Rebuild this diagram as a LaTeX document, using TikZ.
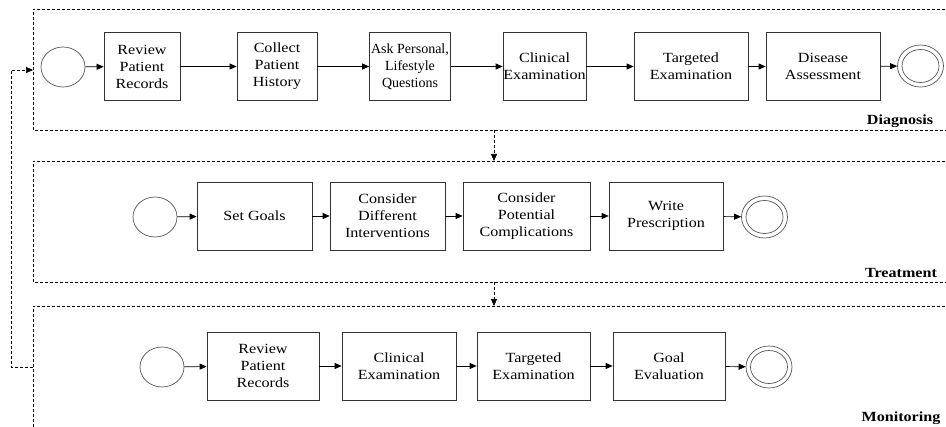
\documentclass[tikz,border=0pt]{standalone}
\usepackage{fontspec}
\setmainfont{Liberation Serif}[FakeStretch=1.15]
\newfontfamily\narrowserif{Liberation Serif}[FakeStretch=1.0]
\usetikzlibrary{shapes.geometric,arrows.meta}
\definecolor{boxline}{HTML}{333333}
\definecolor{circline}{HTML}{555555}
\tikzset{
  stepbox/.style={draw=boxline, line width=0.7pt, rectangle, align=center, inner sep=0pt,
    minimum height=68pt, font=\fontsize{14}{17}\selectfont},
  startev/.style={draw=circline, line width=0.7pt, ellipse, minimum width=44pt, minimum height=40pt, inner sep=0pt},
  endev/.style={draw=circline, line width=0.7pt, ellipse, minimum width=46pt, minimum height=42pt, inner sep=0pt},
  endin/.style={draw=circline, line width=0.7pt, ellipse, minimum width=37pt, minimum height=33pt, inner sep=0pt},
  flow/.style={draw=black, line width=0.7pt, -{Triangle[length=7pt,width=6pt]}},
  frame/.style={draw=black, line width=0.6pt, dash pattern=on 3pt off 2pt},
  dflow/.style={draw=black, line width=0.6pt, dash pattern=on 3pt off 2pt, -{Triangle[length=7pt,width=6pt]}},
  lanelabel/.style={font=\fontsize{14}{17}\selectfont\bfseries, inner sep=0pt},
}
\begin{document}
\begin{tikzpicture}[x=1pt,y=-1pt]
\useasboundingbox (0,0) rectangle (946,427);
\clip (0,0) rectangle (946,427);
% frames
\draw[frame] (960,9) -- (33,9) -- (33,130) -- (960,130);
\draw[frame] (960,161) -- (33,161) -- (33,282) -- (960,282);
\draw[frame] (960,306) -- (33,306) -- (33,440);
\node[lanelabel] (ldiag) at (900,121) {Diagnosis};
\node[lanelabel] (ltreat) at (901,273) {Treatment};
\node[lanelabel] (lmon) at (901,418) {Monitoring};
% Diagnosis
\node[startev] (ds) at (63,67) {};
\node[stepbox, minimum width=76pt] (d1) at (142,66.5) {Review\\Patient\\Records};
\node[stepbox, minimum width=80pt] (d2) at (277,66.5) {Collect\\Patient\\History};
\node[stepbox, minimum width=81pt, font=\fontsize{14}{17}\narrowserif] (d3) at (410,66.5) {Ask Personal,\\Lifestyle\\Questions};
\node[stepbox, minimum width=83pt] (d4) at (544.5,66.5) {Clinical\\Examination};
\node[stepbox, minimum width=114pt] (d5) at (691,66.5) {Targeted\\Examination};
\node[stepbox, minimum width=114pt] (d6) at (823,66.5) {Disease\\Assessment};
\node[endev] (de) at (920.5,66) {};
\node[endin] (dei) at (920.5,66) {};
\draw[flow] (ds) -- (d1);
\draw[flow] (d1) -- (d2);
\draw[flow] (d2) -- (d3);
\draw[flow] (d3) -- (d4);
\draw[flow] (d4) -- (d5);
\draw[flow] (d5) -- (d6);
\draw[flow] (d6) -- (de);
% Treatment
\node[startev] (ts) at (155,217) {};
\node[stepbox, minimum width=115pt] (t1) at (254.5,216) {Set Goals};
\node[stepbox, minimum width=115pt] (t2) at (387.5,216) {Consider\\Different\\Interventions};
\node[stepbox, minimum width=127pt] (t3) at (526.5,216) {Consider\\Potential\\Complications};
\node[stepbox, minimum width=114pt] (t4) at (666,216) {Write\\Prescription};
\node[endev] (te) at (764.5,217) {};
\node[endin] (tei) at (764.5,217) {};
\draw[flow] (ts) -- (t1);
\draw[flow] (t1) -- (t2);
\draw[flow] (t2) -- (t3);
\draw[flow] (t3) -- (t4);
\draw[flow] (t4) -- (te);
% Monitoring
\node[startev] (ms) at (162,367) {};
\node[stepbox, minimum width=112pt] (m1) at (263,366) {Review\\Patient\\Records};
\node[stepbox, minimum width=114pt] (m2) at (399,366) {Clinical\\Examination};
\node[stepbox, minimum width=113pt] (m3) at (533.5,366) {Targeted\\Examination};
\node[stepbox, minimum width=112pt] (m4) at (669,366) {Goal\\Evaluation};
\node[endev] (me) at (769,367) {};
\node[endin] (mei) at (769,367) {};
\draw[flow] (ms) -- (m1);
\draw[flow] (m1) -- (m2);
\draw[flow] (m2) -- (m3);
\draw[flow] (m3) -- (m4);
\draw[flow] (m4) -- (me);
% inter-lane connectors
\coordinate (dbot) at (494,130);
\coordinate (ttop) at (494,161);
\coordinate (tbot) at (494,282);
\coordinate (mtop) at (494,306);
\coordinate (mleft) at (33,367);
\coordinate (dleft) at (33,70);
\draw[dflow] (dbot) -- (ttop);
\draw[dflow] (tbot) -- (mtop);
\draw[dflow] (mleft) -- (11,367) -- (11,70) -- (dleft);
\end{tikzpicture}
\end{document}
